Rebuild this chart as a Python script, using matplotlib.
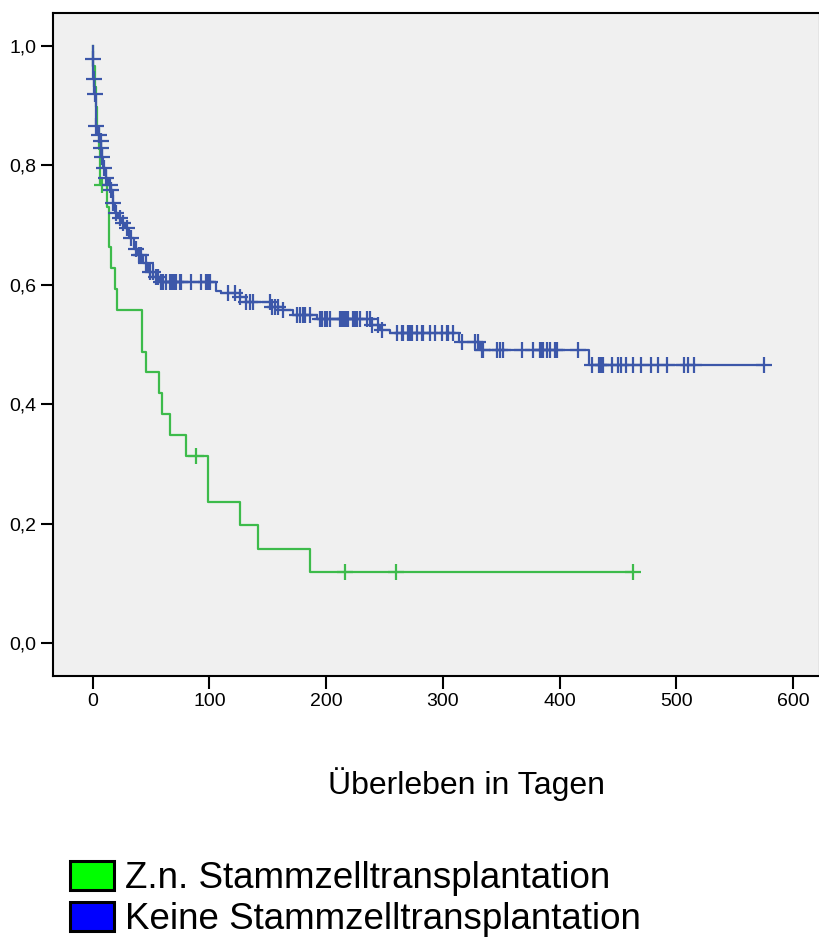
import numpy as np
import matplotlib
matplotlib.use('Agg')
import matplotlib.pyplot as plt
from matplotlib.patches import Patch

plt.rcParams['font.family'] = ['Liberation Sans', 'DejaVu Sans']

# Kaplan-Meier steps: event times (days) and survival after each event
green_times = [0, 0, 2, 3, 4, 5, 6, 12, 14, 15.5, 19.5, 20.5, 42.5, 46, 57, 59,
               66.5, 80, 99, 126.5, 142, 186]
green_surv = [1.0, 0.966, 0.931, 0.897, 0.862, 0.828, 0.767, 0.73, 0.664, 0.628,
              0.593, 0.558, 0.488, 0.454, 0.418, 0.384, 0.348, 0.314, 0.236,
              0.197, 0.158, 0.119]
green_censored = [8, 88.5, 216, 260, 463]

blue_times = [0, 0, 0.5, 1.5, 2.5, 4.5, 6.5, 7.2, 8, 9.2, 11, 13.5, 15.5, 17, 19.5,
              22, 25, 28, 31, 35, 38.5, 43, 47.5, 52, 58, 106, 110, 126, 131.5,
              153, 163, 172, 192, 238, 246, 255, 314, 332, 425]
blue_surv = [1.0, 0.978, 0.944, 0.92, 0.865, 0.851, 0.84, 0.829, 0.814, 0.796,
             0.779, 0.767, 0.758, 0.737, 0.72, 0.712, 0.703, 0.695, 0.678, 0.66,
             0.65, 0.636, 0.622, 0.613, 0.605, 0.589, 0.587, 0.579, 0.571, 0.563,
             0.557, 0.549, 0.543, 0.533, 0.525, 0.519, 0.505, 0.491, 0.466]
blue_censored = [0.2, 0.8, 1.8, 3.1, 5.4, 7, 7.5, 8.4, 9.8, 11.8, 14.6, 16, 17.5,
                 20.3, 23, 26, 29, 33, 37, 40, 41.7, 46, 48.9, 51.7, 54.6, 56,
                 58.9, 60.3, 63.1, 66, 67.4, 68.9, 70.3, 71.7, 74.6, 76, 84.6,
                 93.1, 97.4, 98.9, 100.3, 116, 121.7, 126.5, 131.7, 134.6, 137.4,
                 151.7, 153.2, 156, 158.9, 163.1, 174.6, 177.4, 180.3, 181.7, 186,
                 194.6, 196, 198.9, 200.3, 203.1, 211.7, 213.1, 214.6, 216, 217.4,
                 218.9, 223.1, 224.6, 226, 228.9, 234.6, 237.4, 238.9, 244.6,
                 247.4, 260.3, 264.6, 266, 270.3, 271.7, 273.1, 277.4, 281.7,
                 283.1, 288.9, 293.1, 298.9, 303.1, 304.6, 308.9, 316, 327.4,
                 330.3, 333.1, 334.6, 346, 348.9, 351.7, 367.4, 377.4, 383.1,
                 384.6, 386, 388.9, 391.7, 396, 397.4, 416, 427.4, 433.7, 435.4,
                 436.9, 444.6, 449.7, 452.6, 456.6, 462.6, 469.7, 478.3, 484.6,
                 492.3, 506.9, 509.7, 515.1, 575]

labels = ['Z.n. Stammzelltransplantation', 'Keine Stammzelltransplantation']
yticks = [0.0, 0.2, 0.4, 0.6, 0.8, 1.0]
ytick_labels = ['0,0', '0,2', '0,4', '0,6', '0,8', '1,0']
xticks = [0, 100, 200, 300, 400, 500, 600]

line_green = '#3DBB4B'
line_blue = '#3C57A9'


def step_value(times, surv, t):
    i = np.searchsorted(times, t, side='right') - 1
    return surv[i]


def draw_km(ax, times, surv, censored, color):
    t = list(times) + [max(censored)]
    s = list(surv) + [surv[-1]]
    ax.step(t, s, where='post', color=color, lw=1.6, zorder=3)
    cy = [step_value(np.array(times), surv, c) for c in censored]
    ax.plot(censored, cy, ls='none', marker='+', ms=11, mew=1.6,
            color=color, zorder=4)


fig = plt.figure(figsize=(8.2, 9.42), dpi=100)
ax = fig.add_axes([53 / 820, 1 - 676 / 942, 1 - 53 / 820, (676 - 13) / 942])
ax.set_facecolor('#F0F0F0')

draw_km(ax, green_times, green_surv, green_censored, line_green)
draw_km(ax, blue_times, blue_surv, blue_censored, line_blue)

ax.set_xlim(-34, 623)
ax.set_ylim(-0.055, 1.055)
ax.set_xticks(xticks)
ax.set_xticklabels([str(x) for x in xticks])
ax.set_yticks(yticks)
ax.set_yticklabels(ytick_labels)
ax.tick_params(axis='both', length=9, width=1.5, labelsize=14, pad=3)
for sp in ax.spines.values():
    sp.set_linewidth(1.5)

fig.text(467 / 820, 1 - 784 / 942, 'Überleben in Tagen', fontsize=23,
         ha='center', va='center')

handles = [Patch(facecolor='#00FF00', edgecolor='black', lw=2.2),
           Patch(facecolor='#0000FF', edgecolor='black', lw=2.2)]
fig.legend(handles, labels, loc='upper left',
           bbox_to_anchor=(70 / 820, 1 - 861 / 942), frameon=False,
           fontsize=26.5, handlelength=1.2, handleheight=0.85,
           handletextpad=0.3, labelspacing=0.15, borderpad=0,
           borderaxespad=0)

fig.savefig('out.png', dpi=100)
